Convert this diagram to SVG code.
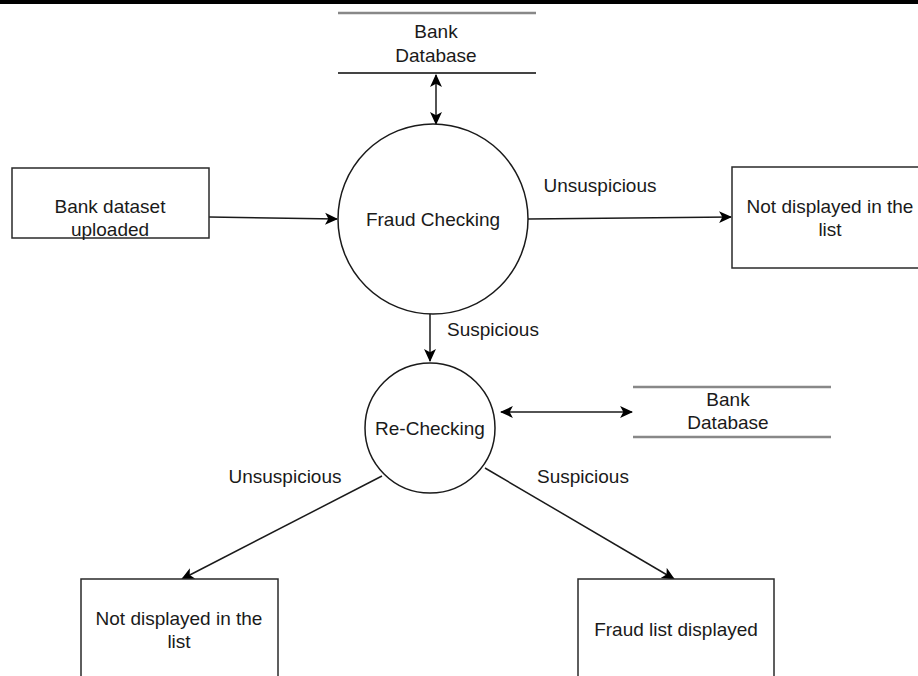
<svg xmlns="http://www.w3.org/2000/svg" width="918" height="676" viewBox="0 0 918 676">
<style>
text{font-family:"Liberation Sans",Arial,sans-serif;font-size:19px;fill:#1a1a1a;text-anchor:middle}
.box{fill:#fff;stroke:#2a2a2a;stroke-width:1.5}
.circ{fill:#fff;stroke:#1a1a1a;stroke-width:1.5}
.ds{stroke:#444;stroke-width:2}
.ds2{stroke:#888;stroke-width:2.5}
.c{stroke:#1a1a1a;stroke-width:1.5;fill:none}
</style>
<defs>
<marker id="ah" viewBox="0 0 12 12" refX="11" refY="6" markerWidth="13" markerHeight="13" markerUnits="userSpaceOnUse" orient="auto-start-reverse">
<path d="M0,0.5 L12,6 L0,11.5 L3,6 Z" fill="#000"/>
</marker>
</defs>
<rect x="0" y="0" width="918" height="676" fill="#fff"/>
<rect x="0" y="0" width="918" height="4" fill="#000"/>

<g id="connectors">
<line class="c" x1="436" y1="75" x2="436" y2="124" marker-start="url(#ah)" marker-end="url(#ah)"/>
<line class="c" x1="209" y1="217" x2="337" y2="219" marker-end="url(#ah)"/>
<line class="c" x1="528" y1="219" x2="731" y2="217" marker-end="url(#ah)"/>
<line class="c" x1="430" y1="313" x2="430" y2="361" marker-end="url(#ah)"/>
<line class="c" x1="501" y1="412" x2="632" y2="412" marker-start="url(#ah)" marker-end="url(#ah)"/>
<line class="c" x1="382" y1="476" x2="182" y2="579" marker-end="url(#ah)"/>
<line class="c" x1="485" y1="468" x2="674" y2="579" marker-end="url(#ah)"/>
<text x="600" y="192">Unsuspicious</text>
<text x="493" y="336">Suspicious</text>
<text x="285" y="483">Unsuspicious</text>
<text x="583" y="483">Suspicious</text>
</g>

<g id="db1">
<line class="ds2" x1="338" y1="13" x2="536" y2="13"/>
<line class="ds" x1="338" y1="73" x2="536" y2="73"/>
<text x="436" y="38">Bank</text>
<text x="436" y="62">Database</text>
</g>

<g id="fraud-checking">
<circle class="circ" cx="433" cy="219" r="95"/>
<text x="433" y="226">Fraud Checking</text>
</g>

<g id="bank-dataset">
<rect class="box" x="12" y="168" width="197" height="70"/>
<text x="110" y="213">Bank dataset</text>
<text x="110" y="236">uploaded</text>
</g>

<g id="not-displayed-1">
<rect class="box" x="732" y="167" width="200" height="101"/>
<text x="830" y="213">Not displayed in the</text>
<text x="830" y="236">list</text>
</g>

<g id="re-checking">
<circle class="circ" cx="430" cy="428" r="65"/>
<text x="430" y="435">Re-Checking</text>
</g>

<g id="db2">
<line class="ds2" x1="633" y1="387" x2="831" y2="387"/>
<line class="ds2" x1="633" y1="437" x2="831" y2="437"/>
<text x="728" y="406">Bank</text>
<text x="728" y="429">Database</text>
</g>

<g id="not-displayed-2">
<rect class="box" x="81" y="579" width="197" height="110"/>
<text x="179" y="625">Not displayed in the</text>
<text x="179" y="648">list</text>
</g>

<g id="fraud-list">
<rect class="box" x="578" y="579" width="196" height="110"/>
<text x="676" y="636">Fraud list displayed</text>
</g>
</svg>
